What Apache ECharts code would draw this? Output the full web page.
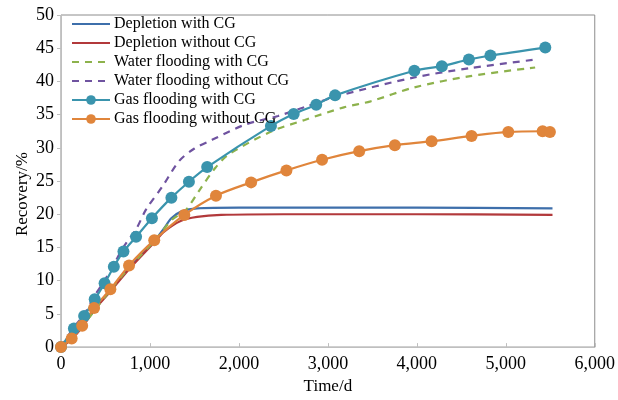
<!DOCTYPE html>
<html>
<head>
<meta charset="utf-8">
<script src="https://cdn.jsdelivr.net/npm/echarts@6/dist/echarts.min.js"></script>
<style>
    html, body { margin: 0; padding: 0; background: #fff; }
    #main { width: 618px; height: 400px; }
</style>
</head>
<body>
<div id="main"></div>
<script>
    // series names (legend order)
    var seriesNames = ['Depletion with CG', 'Depletion without CG', 'Water flooding with CG',
        'Water flooding without CG', 'Gas flooding with CG', 'Gas flooding without CG'];

    // [time (d), recovery (%)]
    var depletionCG = [[0,0],[120,1.3],[240,3.2],[370,5.7],[550,8.5],[770,12.0],[1050,16.0],[1160,17.9],
        [1240,19.4],[1350,20.4],[1530,20.9],[2000,21.0],[3000,21.0],[4000,21.0],[5525,20.9]];
    var depletionNoCG = [[0,0],[120,1.2],[240,3.0],[370,5.5],[550,8.3],[770,11.8],[1050,15.8],[1160,17.4],
        [1345,19.0],[1530,19.6],[1800,19.9],[2500,20.0],[4000,20.0],[5525,19.9]];
    var waterCG = [[0,0],[240,3.2],[550,8.5],[770,12.0],[1050,16.0],[1250,19.2],[1400,20.6],[1550,23.5],
        [1736,27.0],[1884,29.0],[2370,32.5],[2740,34.2],[3180,36.1],[3480,37.0],[3970,39.1],[4600,40.8],[5330,42.1]];
    var waterNoCG = [[0,0],[140,2.9],[260,4.9],[372,7.6],[490,10.0],[600,12.6],[700,15.0],[850,17.9],
        [955,20.7],[1141,24.2],[1327,28.0],[1500,29.9],[1698,31.2],[2070,33.5],[2441,34.8],[2776,36.3],
        [3110,37.8],[3972,40.6],[4597,42.0],[5340,43.3]];
    var gasCG = [[0,0],[145,2.8],[260,4.7],[379,7.2],[490,9.6],[594,12.1],[702,14.4],[844,16.6],[1022,19.4],
        [1241,22.5],[1438,24.9],[1643,27.1],[2360,33.3],[2616,35.1],[2869,36.5],[3081,37.9],[3972,41.6],
        [4281,42.3],[4585,43.3],[4827,43.9],[5444,45.1]];
    var gasNoCG = [[0,0],[120,1.3],[238,3.2],[372,5.9],[555,8.7],[765,12.3],[1048,16.1],[1386,19.9],
        [1742,22.8],[2137,24.8],[2534,26.6],[2935,28.2],[3352,29.5],[3753,30.4],[4166,31.0],[4615,31.8],
        [5028,32.4],[5414,32.5],[5496,32.4]];

    var chart = echarts.init(document.getElementById('main'));

    var serifFont = '"Liberation Serif", "Times New Roman", serif';

    function lineSeries(name, data, color, dashed, marker) {
        return {
            name: name,
            type: 'line',
            data: data,
            smooth: 0.3,
            symbol: 'circle',
            symbolSize: 12,
            showSymbol: !!marker,
            lineStyle: { color: color, width: 2.2, type: dashed ? [7, 6] : 'solid' },
            itemStyle: { color: color },
            z: marker ? 3 : 2
        };
    }

    // legend entries: plain lines have no dot in the legend
    var legendData = seriesNames.map(function (n, i) {
        return i < 4 ? { name: n, itemStyle: { opacity: 0 } } : { name: n };
    });

    var option = {
        animation: false,
        textStyle: { fontFamily: serifFont },
        grid: {
            left: 61, right: 19, top: 15, bottom: 52,
            show: true, borderColor: '#8c8c8c', borderWidth: 1
        },
        legend: {
            orient: 'vertical',
            left: 66, top: 11,
            itemGap: 3,
            itemWidth: 38,
            itemHeight: 12,
            textStyle: { fontFamily: serifFont, fontSize: 16, color: '#000', padding: [0, 0, 0, -1] },
            data: legendData
        },
        xAxis: {
            type: 'value',
            min: 0, max: 6000, interval: 1000,
            name: 'Time/d',
            nameLocation: 'middle',
            nameGap: 28,
            nameTextStyle: { fontFamily: serifFont, fontSize: 17, color: '#000' },
            axisLine: { lineStyle: { color: '#bfbfbf' } },
            axisTick: { inside: true, length: 4, lineStyle: { color: '#bfbfbf' } },
            axisLabel: {
                fontFamily: serifFont, fontSize: 18, color: '#000', margin: 8,
                formatter: function (v) { return v.toLocaleString('en-US'); }
            },
            splitLine: { show: false }
        },
        yAxis: {
            type: 'value',
            min: 0, max: 50, interval: 5,
            name: 'Recovery/%',
            nameLocation: 'middle',
            nameGap: 30,
            nameMoveOverlap: false,
            nameTextStyle: { fontFamily: serifFont, fontSize: 17, color: '#000', padding: [0, 26, 0, 0] },
            axisLine: { show: true, lineStyle: { color: '#bfbfbf' } },
            axisTick: { show: true, length: 4, lineStyle: { color: '#bfbfbf' } },
            axisLabel: { fontFamily: serifFont, fontSize: 18, color: '#000', margin: 7 },
            splitLine: { show: false }
        },
        series: [
            lineSeries(seriesNames[0], depletionCG, '#3e6fab', false, false),
            lineSeries(seriesNames[1], depletionNoCG, '#b2393b', false, false),
            lineSeries(seriesNames[2], waterCG, '#8db24c', true, false),
            lineSeries(seriesNames[3], waterNoCG, '#6f53a0', true, false),
            lineSeries(seriesNames[4], gasCG, '#3a94ad', false, true),
            lineSeries(seriesNames[5], gasNoCG, '#e0853b', false, true)
        ]
    };

    chart.setOption(option);
</script>
</body>
</html>
